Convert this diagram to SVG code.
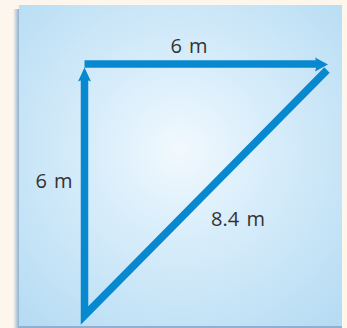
<svg xmlns="http://www.w3.org/2000/svg" width="347" height="328" viewBox="0 0 347 328">
<defs>
<radialGradient id="bg" cx="180" cy="150" r="230" gradientUnits="userSpaceOnUse">
<stop offset="0" stop-color="#f2f9fe"/>
<stop offset="0.35" stop-color="#daeefb"/>
<stop offset="1" stop-color="#b6dcf3"/>
</radialGradient>
<linearGradient id="sh" x1="0" y1="0" x2="1" y2="0">
<stop offset="0" stop-color="#fdf6ec"/>
<stop offset="1" stop-color="#8fb0d0"/>
</linearGradient>
<style>
.lbl{font-family:"Open Sans","Noto Sans",sans-serif;font-size:20px;fill:#333;word-spacing:2px}
.ln{fill:none;stroke:#0788cf;stroke-width:7.5}
.hd{fill:#0788cf}
</style>
</defs>
<rect x="0" y="0" width="347" height="328" fill="#fdf6ec"/>
<rect x="13" y="9" width="6" height="319" fill="url(#sh)"/>
<rect x="19" y="325" width="323" height="3" fill="#8fb0d0"/>
<rect x="19" y="5" width="323" height="321" fill="url(#bg)"/>
<g id="connectors">
<path class="ln" d="M84.5,79 L84.5,315.5 L327,70" stroke-linejoin="miter" stroke-miterlimit="10"/>
<path class="ln" d="M84.5,64 L317,64"/>
<polygon class="hd" points="78,81.5 84.5,67.5 91,81.5 84.5,79"/>
<polygon class="hd" points="315,57.5 328,64.5 315,71.5 317,64.5"/>
</g>
<g id="label-top"><text class="lbl" x="189" y="53" text-anchor="middle">6 m</text></g>
<g id="label-left"><text class="lbl" x="54" y="188" text-anchor="middle">6 m</text></g>
<g id="label-diag"><text class="lbl" x="238" y="226" text-anchor="middle">8.4 m</text></g>
</svg>
